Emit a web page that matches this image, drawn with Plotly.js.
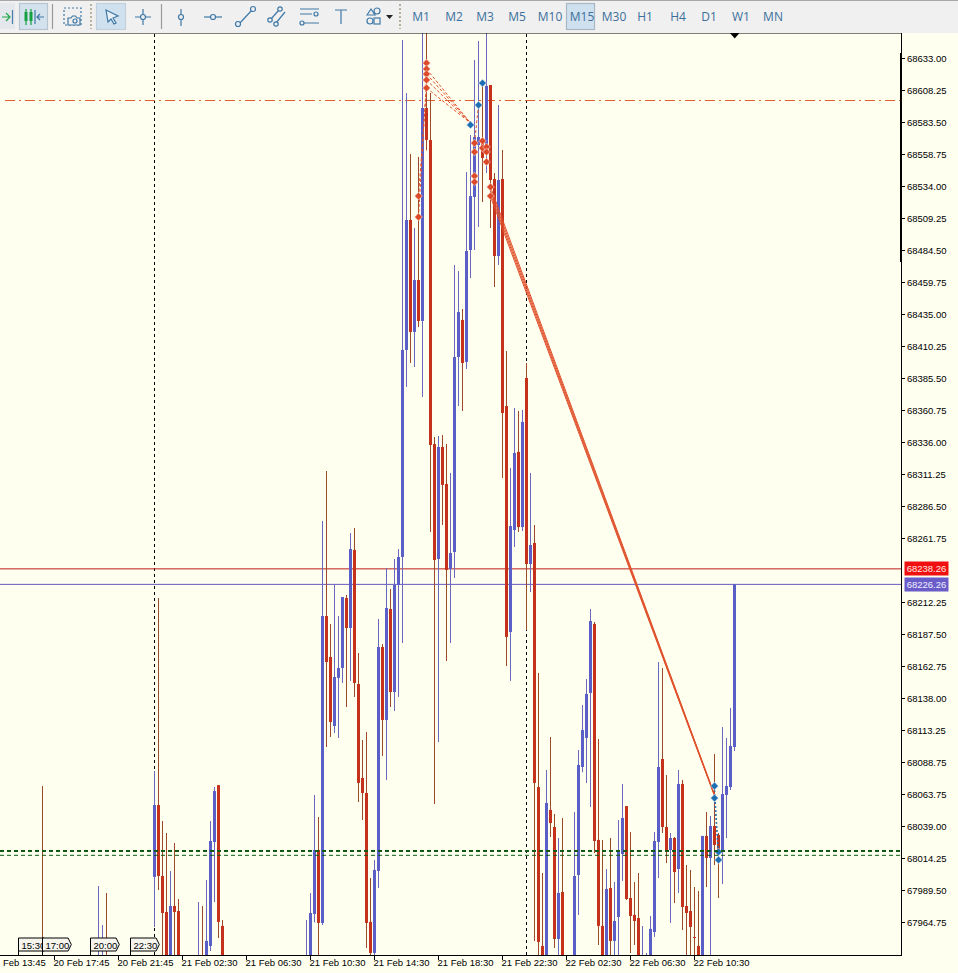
<!DOCTYPE html>
<html>
<head>
<meta charset="utf-8">
<script src="https://cdn.plot.ly/plotly-3.0.1.min.js"></script>
<style>
html,body{margin:0;padding:0;background:#fffff0;overflow:hidden;width:958px;height:973px}
#chart{position:absolute;left:0;top:0;width:958px;height:973px}
#bar{position:absolute;left:0;top:0;width:958px;height:33px;background:#f0f0f0;border-top:1px solid #a8a8a8;box-sizing:border-box;z-index:5;font-family:"Open Sans","Noto Sans",sans-serif}
#bar span{position:absolute;top:8px;font-size:12px;line-height:16px;color:#3b6f9c;transform:translateX(-50%)}
#bar svg{position:absolute;left:0;top:-1px}
</style>
</head>
<body>
<div id="chart"></div>
<div id="bar">
<svg width="958" height="33" viewBox="0 0 958 33" fill="none" stroke="#3f78a6" stroke-width="1.2">
<rect x="-1" y="3" width="16" height="26" fill="#e4e8ec" stroke="none"/>
<rect x="19.5" y="3.5" width="28" height="26" fill="#d4e2ee" stroke="#b8c4d0"/>
<rect x="96.5" y="3.5" width="29" height="26" fill="#cfe0ef" stroke="#c4d0dc"/>
<rect x="566.5" y="3.5" width="28" height="26" fill="#cfe0ef" stroke="#aab8c6"/>
<path d="M2 17h7M6 13l4 4-4 4" stroke="#22a84a"/><path d="M12.5 10v14" stroke="#4a7fa8"/>
<path d="M26 9v16M31 9v16" stroke="#14a040"/><rect x="24.5" y="12" width="3" height="9" fill="#14a040" stroke="none"/><rect x="29.5" y="12" width="3" height="9" fill="#14a040" stroke="none"/>
<path d="M35 10v14" /><path d="M44 17h-7M40 14l-3 3 3 3"/>
<path d="M52.5 4v25" stroke="#9a9a9a"/>
<rect x="64" y="8" width="17" height="17" stroke-dasharray="2 2"/>
<path d="M68 25v-7h3l1.5-2h3l1.5 2h3v7z" fill="#f0f0f0"/><circle cx="75" cy="21" r="2"/>
<path d="M91 4v25M400 4v25" stroke="#b8b09a" stroke-dasharray="2 2" stroke-width="2"/>
<path d="M106 10l12 6-5 2 3 5-2 1-3-5-3 3z" fill="#e8f0f6"/>
<path d="M143 9v16M135 17h16"/><circle cx="143" cy="17" r="2.5" fill="#f0f0f0"/>
<path d="M161.5 4v25" stroke="#9a9a9a"/>
<path d="M181 9v17"/><circle cx="181" cy="17" r="2.5" fill="#f0f0f0"/>
<path d="M204 17h18"/><circle cx="213" cy="17" r="2.5" fill="#f0f0f0"/>
<path d="M239 24l13-14"/><circle cx="238" cy="24" r="2.5" fill="#f0f0f0"/><circle cx="253" cy="9" r="2.5" fill="#f0f0f0"/>
<path d="M271 19l8-9M276 23l9-11"/><circle cx="270" cy="20" r="2.2" fill="#f0f0f0"/><circle cx="280" cy="9" r="2.2" fill="#f0f0f0"/><circle cx="276" cy="24" r="2.2" fill="#f0f0f0"/>
<path d="M300 9h19M300 14h12M303 23h16"/><circle cx="316" cy="14" r="2" fill="#f0f0f0"/><circle cx="302" cy="23" r="2" fill="#f0f0f0"/>
<path d="M335 10h12M341 10v14"/>
<path d="M367 15l4-6 4 6z"/><circle cx="377" cy="11" r="3"/><circle cx="370" cy="21" r="3"/><rect x="374" y="18" width="6" height="6"/>
<path d="M386 15h7l-3.500 4z" fill="#222" stroke="none"/>
</svg>
<span style="left:421px">M1</span><span style="left:454px">M2</span><span style="left:485px">M3</span><span style="left:517px">M5</span><span style="left:550px">M10</span><span style="left:582px">M15</span><span style="left:614px">M30</span><span style="left:645px">H1</span><span style="left:678px">H4</span><span style="left:709px">D1</span><span style="left:741px">W1</span><span style="left:773px">MN</span>
</div>
<script>
var barIndex = [0,14,15,16,28,29,30,31,32,33,34,39,40,41,42,43,44,45,66,67,68,69,70,71,72,73,74,75,76,77,78,79,80,81,82,83,84,85,86,87,88,89,90,91,92,93,94,95,96,97,98,99,100,101,102,103,104,105,106,107,108,109,110,111,112,113,114,115,116,117,118,119,120,121,122,123,124,125,126,127,128,129,130,133,134,135,136,137,138,139,140,141,142,143,144,145,146,147,148,149,150,151,152,153,154,155,156,157,158,159,160,161,162,163,164,165,166,167,168,169,170,171,172,173];
var openPrice = [67925,67905,67905,67925,68000,68055.6,68000.7,67972.9,67915,67977.5,67973.6,67905,67925,67915,67946.6,68027,68071,67962.1,67905,67915,67971.3,68020.8,67964.4,68201.8,68170.1,68116.7,68153.9,68161.6,68215.7,68192.5,68252.9,68149.2,68076.5,68064.9,67965.2,67941.2,68004.6,68177.8,68121.4,68207.2,68143,68225.8,68247.4,68407.6,68508.1,68421.5,68461.7,68430,68594.7,68570,68334.8,68245.9,68332.5,68303.9,68238.2,68251.3,68402.1,68430.8,68398.3,68484.9,68525.9,68566.1,68570,68564.6,68612.5,68539.8,68480.2,68539.8,68364.2,68189.4,68268.3,68328.7,68270.6,68385.9,68242,68258.3,68069.5,67946.6,67915,68051.8,68038.6,67952,67988.3,67915,68001.5,68085,68107.5,68142.3,68195.6,68028.6,67962.1,67915,67991.4,67950.5,67969,68017.7,68054.8,67983.7,67970.6,67968.2,67905,67905,67915,67957.4,68027,68091.2,68038.6,68020.8,68030.1,68006.1,68071.9,67977.5,67973.6,67953.5,67946.6,67915,68031.7,68014.7,68039.4,68032.4,68020.8,68063.4,68069.5,68100.5];
var highPrice = [68070.3,67993,67962.8,67987.6,68081.9,68215.7,68043.2,68034,68004.6,68026.2,67982.9,67980.6,67977.5,67997.6,68043.2,68069.5,68071,67966.7,67966.7,67987.6,68063.4,68046.3,68275.3,68314,68195.6,68225.8,68201.8,68216.5,68218,68266,68269.9,68173.2,68105.9,68112.1,67999.2,68013.1,68199.5,68180.2,68238.9,68222.7,68245.9,68253.6,68647.3,68606.3,68559.1,68501.9,68556.8,68670,68670,68606.3,68340.3,68341,68341.8,68334.8,68312.4,68473.3,68468.7,68439.2,68545.2,68573.8,68631.8,68646.5,68612.5,68670,68612.5,68544.4,68597,68562.2,68406.8,68316.3,68362.7,68360.4,68361.2,68397.5,68312.4,68272.2,68157.7,68003.1,68082.7,68108.2,68048.7,68030.1,68045.6,68050.2,68098.2,68133,68153.1,68207.2,68197.2,68106.7,68028.6,68006.1,68030.1,67996.1,68044,68071.9,68054.8,68034.8,67996.1,68003.1,67962.1,67941.2,67969.8,68034.8,68166.2,68161.6,68078.8,68034,68030.9,68082.7,68075,68009.2,68005.4,67992.2,67989.1,68031.7,68050.2,68047.1,68095,68034,68116,68107.5,68130.7,68226.3];
var lowPrice = [67900,67895,67895,67900,67961.3,67989.9,67900,67895,67895,67900,67895,67895,67900,67895,67942.7,67980.6,67952.7,67895,67895,67895,67965,67895,67962.8,68100.5,68108.2,68111.3,68107.4,68150,68131.4,68151.5,68139.2,68058,68044,67945,67900,67930,67991.4,68093.5,68075,68131.4,68128.3,68139.2,68180.9,68378.9,68397.5,68394.4,68425.3,68371.2,68562,68266.8,68056.4,68104.4,68272.2,68167,68180.9,68231.2,68364.2,68360.4,68392.9,68463.2,68484.9,68502.7,68522,68544.4,68501.9,68456.3,68473.3,68308.5,68163.2,68151.5,68255.2,68266.8,68267.6,68191,68220.4,67950.5,67900,67895,67895,68030.9,67945,67900,67895,67895,67970.6,68081,68072.7,68054.1,68018.5,67947.4,67895,67895,67900,67900,67900,67996.9,67982.2,67941.2,67947.4,67895,67895,67895,67895,67953.5,67999.2,68034,68010.8,67964.4,67979.8,67987.6,67959,67900,67900,67900,67895,67895,67992.2,67900,68009.2,67983.7,67994.5,68030.1,68067.2,68097.4];
var closePrice = [67905,67925,67925,67905,68055.6,68000.7,67972.1,67915,67977.5,67972.9,67915,67925,67905,67950.5,68027.8,68066.4,67965.2,67915,67925,67972.1,68020.8,67964.4,68201.8,68166.2,68119.8,68154.6,68161.6,68216.5,68192.5,68253.6,68150,68072.7,68064.9,67964.4,67941.2,68005.4,68177.8,68121.4,68208,68143,68225.8,68247.4,68407.6,68508.1,68421.5,68461.7,68430,68594.7,68570,68334.1,68245.1,68332.5,68303.2,68237.4,68250.5,68402.1,68436.9,68397.5,68484.1,68526.6,68572.3,68572.3,68556.1,68611.8,68539,68480.2,68539,68358.8,68185.6,68271.4,68327.9,68270.6,68351.9,68242,68256.7,68072.7,67949.7,67915,68057.2,68041.7,67952,67987.6,67915,68000.7,68086.6,68113.6,68141.5,68197.9,68027.8,67962.1,67915,67990.7,67950.5,67965.9,68019.3,68045.6,67982.9,67969.8,67965.9,67915,67925,67925,67959.8,68027.8,68085,68038.6,68019.3,68030.1,68003.8,68071.9,67976.7,67972.1,67961.3,67952.7,67915,68031.7,68014.7,68039.4,68024.7,68020.8,68064.1,68070.3,68101.3,68226.3];

// Trades: entry bar and price, exit bar and price
var fanFromBar = [96,96,96,96,94,94,108];
var fanFromPrice = [68624.9,68621,68616.4,68610.2,68526.6,68510.4,68567.6];
var fanToBar = [107,107,107,107,96,96,109];
var fanToPrice = [68583.1,68583.1,68583.1,68583.1,68610.2,68616.4,68597];
var longFromBar = [112,112,112,112];
var longFromPrice = [68533.6,68531,68528.5,68526];
var longToBar = [168,168,168,168];
var longToPrice = [68063.8,68063.4,68063,68062.6];
var exitFromBar = [168,168];
var exitFromPrice = [68070.3,68061];
var exitToBar = [169,169];
var exitToPrice = [68019.3,68013.1];

var redMarkBar = [94,94,96,96,96,96,96,108,108,108,108,110,110,111,111,111,112,112];
var redMarkPrice = [68526.6,68510.4,68629.5,68624.9,68621,68616.4,68610.2,68567.6,68560.7,68542.1,68537.5,68569.2,68563.8,68564.6,68560.7,68553,68533.6,68526.6];
var blueMarkBar = [107,109,110,168,168,169,169];
var blueMarkPrice = [68581.6,68597,68614,68070.3,68061,68019.3,68013.1];

var askLevel = 68238.26, bidLevel = 68226.26, orangeLevel = 68600.5, greenLevelA = 68020, greenLevelB = 68016.7;

var priceTickVals = [68633,68608.25,68583.5,68558.75,68534,68509.25,68484.5,68459.75,68435,68410.25,68385.5,68360.75,68336,68311.25,68286.5,68261.75,68212.25,68187.5,68162.75,68138,68113.25,68088.5,68063.75,68039,68014.25,67989.5,67964.75];
var priceTickText = ["68633.00","68608.25","68583.50","68558.75","68534.00","68509.25","68484.50","68459.75","68435.00","68410.25","68385.50","68360.75","68336.00","68311.25","68286.50","68261.75","68212.25","68187.50","68162.75","68138.00","68113.25","68088.75","68063.75","68039.00","68014.25","67989.50","67964.75"];
var timeTickBars = [3,19,35,51,67,83,99,115,131,147,163];
var timeTickText = ["20 Feb 17:45","20 Feb 21:45","21 Feb 02:30","21 Feb 06:30","21 Feb 10:30","21 Feb 14:30","21 Feb 18:30","21 Feb 22:30","22 Feb 02:30","22 Feb 06:30","22 Feb 10:30"];
var flagBars = [-6,0,12,22];
var flagText = ["15:30","17:00","20:00","22:30"];
var dividerBars = [28,121];

var W = 901, H = 922;
function px(x){return x/W;}
function py(y){return (955-y)/H;}
var BLUE='#5a5fc8', RED='#c4321c', BLUEW='#6b68c0', REDW='#9c4a2a', TRADE='#e0502a';
var FONT='"Liberation Sans",Arial,sans-serif';

function pick(arr, up){return arr.filter(function(_,k){return (closePrice[k]>=openPrice[k])===up;});}
function wickTrace(up,color){
  var lo=pick(lowPrice,up), hi=pick(highPrice,up);
  return {type:'bar',x:pick(barIndex,up),base:lo,y:hi.map(function(v,k){return v-lo[k];}),width:0.25,
    marker:{color:color,line:{width:0}},hoverinfo:'skip',showlegend:false};
}
function bodyTrace(up,color){
  var o=pick(openPrice,up), c=pick(closePrice,up);
  return {type:'bar',x:pick(barIndex,up),base:o.map(function(v,k){return Math.min(v,c[k]);}),
    y:o.map(function(v,k){return Math.max(Math.abs(c[k]-v),0.8);}),width:0.75,
    marker:{color:color,line:{width:0}},hoverinfo:'skip',showlegend:false};
}
function segs(a,b,c,d){var X=[],Y=[];a.forEach(function(_,k){X.push(a[k],c[k],null);Y.push(b[k],d[k],null);});return {x:X,y:Y};}

var fan=segs(fanFromBar,fanFromPrice,fanToBar,fanToPrice);
var lng=segs(longFromBar,longFromPrice,longToBar,longToPrice);
var ext=segs(exitFromBar,exitFromPrice,exitToBar,exitToPrice);

var traces=[
 wickTrace(true,BLUEW),wickTrace(false,REDW),
 bodyTrace(true,BLUE),bodyTrace(false,RED),
 {type:'scatter',mode:'lines',x:fan.x,y:fan.y,line:{color:TRADE,width:1,dash:'3px,2px'},showlegend:false,hoverinfo:'skip'},
 {type:'scatter',mode:'lines',x:lng.x,y:lng.y,line:{color:TRADE,width:1},showlegend:false,hoverinfo:'skip'},
 {type:'scatter',mode:'lines',x:ext.x,y:ext.y,line:{color:'#2a70a8',width:1,dash:'2px,2px'},showlegend:false,hoverinfo:'skip'},
 {type:'scatter',mode:'markers',x:redMarkBar,y:redMarkPrice,marker:{symbol:'diamond',size:6,color:'#dd4a2a',line:{color:'#fff8f0',width:0.5}},showlegend:false,hoverinfo:'skip'},
 {type:'scatter',mode:'markers',x:blueMarkBar,y:blueMarkPrice,marker:{symbol:'diamond',size:6,color:'#1d6fb4',line:{color:'#f4f8ff',width:0.5}},showlegend:false,hoverinfo:'skip'}
];

function hline(v,color,width,dash,x0,layer){return {type:'line',xref:'paper',yref:'y',x0:x0||0,x1:1,y0:v,y1:v,layer:layer||'below',line:{color:color,width:width,dash:dash||'solid'}};}
var shapes=[];
dividerBars.forEach(function(b){shapes.push({type:'line',xref:'x',yref:'paper',x0:b,x1:b,y0:0,y1:1,layer:'below',line:{color:'#000',width:1,dash:'3px,3px'}});});
shapes.push(hline(askLevel,'#bc1c18',1));
shapes.push(hline(bidLevel,'#6458bc',1));
shapes.push(hline(orangeLevel,'#e0602c',1,'10px,4px,2px,4px',px(5)));
shapes.push(hline(greenLevelA,'#0f5a14',2,'4px,3px',0,'above'));
shapes.push(hline(greenLevelB,'#0f5a14',1,'4px,3px',0,'above'));
// top border, depth-of-scale marker and bar-shift triangle
shapes.push({type:'line',xref:'paper',yref:'paper',x0:0,x1:1,y0:1,y1:1,line:{color:'#000',width:1}});
shapes.push({type:'line',xref:'paper',yref:'paper',x0:1,x1:1,y0:py(262),y1:py(53),line:{color:'#000',width:2}});
shapes.push({type:'path',xref:'paper',yref:'paper',path:'M'+px(730)+','+py(33)+' L'+px(739.5)+','+py(33)+' L'+px(734.7)+','+py(38.5)+' Z',fillcolor:'#000',line:{width:0}});
// session flags
flagBars.forEach(function(b,k){
  var t=py(938),m=py(944.5),l=py(951),w=6.4,e=7.2;
  shapes.push({type:'path',xref:'x',yref:'paper',layer:'above',
    path:'M'+b+',0 L'+b+','+t+' L'+(b+w)+','+t+' L'+(b+e)+','+m+' L'+(b+w)+','+l+' L'+b+','+l+' Z',
    fillcolor:'#f5f5ee',line:{color:'#000',width:1}});
  shapes.push({type:'rect',xref:'x',yref:'paper',layer:'above',x0:b,x1:b+7,y0:l,y1:t,line:{width:0},fillcolor:'rgba(0,0,0,0)',
    label:{text:flagText[k],textposition:'middle left',padding:0,font:{family:FONT,size:9.5,color:'#000'}}});
});

var annotations=[
 {xref:'paper',yref:'y',x:px(904),y:askLevel,xanchor:'left',yanchor:'middle',text:'68238.26',showarrow:false,bgcolor:'#f01010',font:{family:FONT,size:9.5,color:'#ffe8e0'},borderpad:1,width:41,align:'center'},
 {xref:'paper',yref:'y',x:px(904),y:bidLevel,xanchor:'left',yanchor:'middle',text:'68226.26',showarrow:false,bgcolor:'#6a5cc8',font:{family:FONT,size:9.5,color:'#f0f0ff'},borderpad:1,width:41,align:'center'},
 {xref:'paper',yref:'paper',x:px(1),y:py(962),xanchor:'left',yanchor:'middle',text:'Feb 13:45',showarrow:false,font:{family:FONT,size:9.5,color:'#000'}}
];

var layout={
 width:958,height:973,autosize:false,margin:{l:0,r:57,t:33,b:18,pad:0},
 paper_bgcolor:'#fffff0',plot_bgcolor:'#fffff0',showlegend:false,barmode:'overlay',dragmode:false,
 xaxis:{type:'linear',range:[-10.625,214.625],fixedrange:true,showgrid:false,zeroline:false,showline:true,linecolor:'#000',linewidth:1,
   ticks:'outside',ticklen:4,tickcolor:'#000',tickwidth:1,tickmode:'array',tickvals:timeTickBars,ticktext:timeTickText,tickangle:0,
   ticklabelshift:27,ticklabeloverflow:'allow',ticklabelstandoff:-5,tickfont:{family:FONT,size:9.5,color:'#000'}},
 yaxis:{type:'linear',side:'right',range:[67939.6,68652.72],fixedrange:true,showgrid:false,zeroline:false,showline:true,linecolor:'#000',linewidth:1,
   ticks:'outside',ticklen:3,tickcolor:'#000',tickwidth:1,tickmode:'array',tickvals:priceTickVals,ticktext:priceTickText,
   tickfont:{family:FONT,size:9.5,color:'#000'}},
 shapes:shapes,annotations:annotations
};
Plotly.newPlot('chart',traces,layout,{displayModeBar:false,staticPlot:true});
</script>
</body>
</html>
